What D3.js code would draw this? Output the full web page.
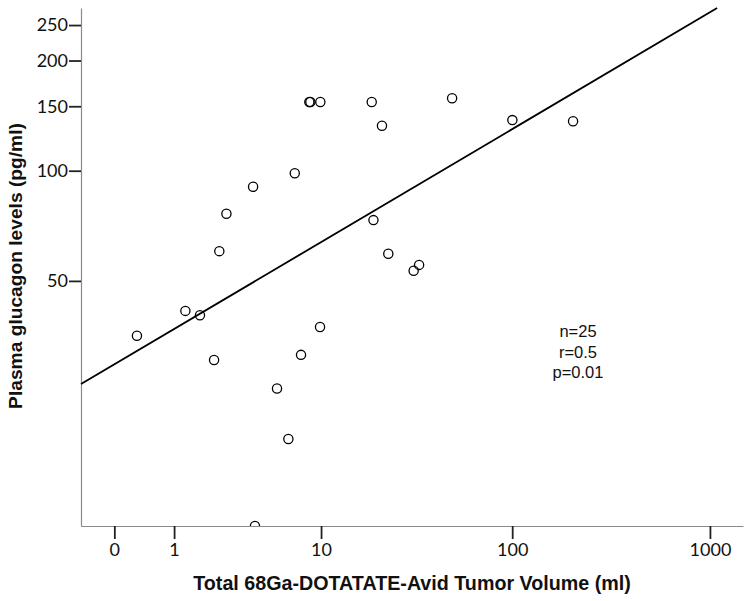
<!DOCTYPE html>
<html>
<head>
<meta charset="utf-8">
<script src="https://cdn.jsdelivr.net/npm/d3@7"></script>
<style>
  html, body { margin: 0; padding: 0; background: #fff; }
  svg { display: block; }
</style>
</head>
<body>
<svg id="chart" width="751" height="601"></svg>
<script>
// ---- Data ----
const tumorVolume = [0.3, 1.28, 1.7, 2.18, 2.38, 2.67, 4.0, 4.11, 5.6, 6.53, 7.11, 7.72, 8.6, 8.72, 9.91, 9.87, 18.8, 19.2, 21.3, 23.0, 31.2, 33.3, 49.3, 100.2, 203.6];
const glucagon    = [35.4, 41.4, 40.3, 30.4, 60.3, 76.3, 90.4, 10.7, 25.4, 18.5, 98.4, 31.4, 154, 154, 154, 37.4, 154, 73.3, 132.7, 59.3, 53.3, 55.3, 157.7, 137.5, 136.5];
const xTickValues = [0, 1, 10, 100, 1000];
const yTickValues = [50, 100, 150, 200, 250];
const fitIntercept = 1.471;   // log10(glucagon) = a + b*log10(volume+1)
const fitSlope = 0.3206;
const statsLines = ["n=25", "r=0.5", "p=0.01"];
const xTitle = "Total 68Ga-DOTATATE-Avid Tumor Volume (ml)";
const yTitle = "Plasma glucagon levels (pg/ml)";

// ---- Layout ----
const plotLeft = 81, plotRight = 743, plotTop = 8, plotBottom = 526;
const svg = d3.select("#chart");

const x = d3.scaleSymlog().constant(1).domain([-0.472, 1468]).range([plotLeft, plotRight]);
const y = d3.scaleLog().domain([10.7, 278.3]).range([plotBottom, plotTop]);

// clip
svg.append("defs").append("clipPath").attr("id", "plot")
  .append("rect").attr("x", plotLeft).attr("y", plotTop)
  .attr("width", plotRight - plotLeft).attr("height", plotBottom - plotTop);

// axes
const xAxis = d3.axisBottom(x).tickValues(xTickValues).tickFormat(d3.format("d")).tickSize(13).tickSizeOuter(0);
const yAxis = d3.axisLeft(y).tickValues(yTickValues).tickFormat(d3.format("d")).tickSize(12).tickSizeOuter(0);

const gx = svg.append("g").attr("transform", `translate(0,${plotBottom})`).call(xAxis);
const gy = svg.append("g").attr("transform", `translate(${plotLeft},0)`).call(yAxis);

[gx, gy].forEach(g => {
  g.select(".domain").attr("stroke", "#8a8a8a").attr("stroke-width", 1.2);
  g.selectAll(".tick line").attr("stroke", "#222").attr("stroke-width", 1.8);
  g.selectAll(".tick text").attr("fill", "#111").style("font-family", "Lato, 'Open Sans', sans-serif").style("font-size", "18px");
});
gy.selectAll(".tick text").attr("x", -13);
gx.selectAll(".tick text").attr("y", 17);

// regression line
const xStart = x.domain()[0];
const yTopLog = Math.log10(y.domain()[1]);
const xEnd = Math.pow(10, (yTopLog - fitIntercept) / fitSlope) - 1;
const fitY = v => Math.pow(10, fitIntercept + fitSlope * (v >= 0 ? Math.log10(v + 1) : -Math.log10(1 - v)));
svg.append("line")
  .attr("x1", x(xStart)).attr("y1", y(fitY(xStart)))
  .attr("x2", x(xEnd)).attr("y2", y(fitY(xEnd)))
  .attr("stroke", "#000").attr("stroke-width", 1.8);

// points
svg.append("g").attr("clip-path", "url(#plot)")
  .selectAll("circle")
  .data(tumorVolume.map((v, i) => ({ v, g: glucagon[i] })))
  .join("circle")
  .attr("cx", d => x(d.v))
  .attr("cy", d => y(d.g))
  .attr("r", 4.6)
  .attr("fill", "none")
  .attr("stroke", "#000")
  .attr("stroke-width", 1.3);

// stats annotation
svg.append("g").selectAll("text")
  .data(statsLines)
  .join("text")
  .attr("x", 578)
  .attr("y", (d, i) => 337 + i * 20.5)
  .attr("text-anchor", "middle")
  .style("font-family", "'Liberation Sans', Arial, sans-serif")
  .style("font-size", "16.5px")
  .attr("fill", "#111")
  .text(d => d);

// axis titles
svg.append("text")
  .attr("x", 412).attr("y", 590)
  .attr("text-anchor", "middle")
  .style("font-family", "'Liberation Sans', Arial, sans-serif")
  .style("font-weight", "bold")
  .style("font-size", "19.7px")
  .attr("fill", "#111")
  .text(xTitle);

svg.append("text")
  .attr("transform", "translate(22,266) rotate(-90)")
  .attr("text-anchor", "middle")
  .style("font-family", "'Liberation Sans', Arial, sans-serif")
  .style("font-weight", "bold")
  .style("font-size", "19.2px")
  .attr("fill", "#111")
  .text(yTitle);
</script>
</body>
</html>
